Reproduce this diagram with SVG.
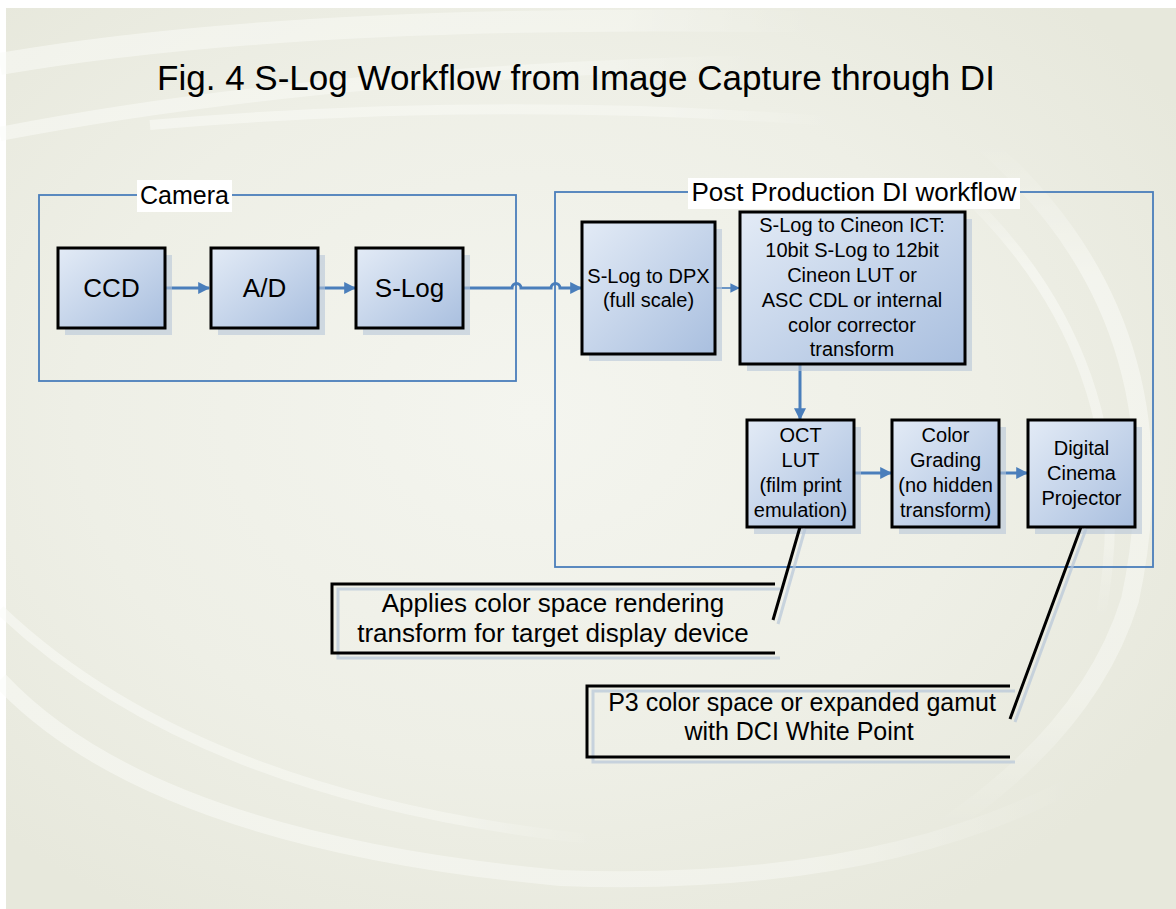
<svg xmlns="http://www.w3.org/2000/svg" width="1176" height="909" viewBox="0 0 1176 909">
<defs>
  <linearGradient id="boxg" x1="0" y1="0" x2="1" y2="1">
    <stop offset="0" stop-color="#e3ebf6"/>
    <stop offset="1" stop-color="#a9bfdf"/>
  </linearGradient>
  <radialGradient id="bgg" cx="0.45" cy="0.45" r="0.65">
    <stop offset="0" stop-color="#f4f5ef"/>
    <stop offset="0.6" stop-color="#eeefe6"/>
    <stop offset="1" stop-color="#e7e8dc"/>
  </radialGradient>
  <linearGradient id="fadeR" x1="0" y1="0" x2="1" y2="0">
    <stop offset="0" stop-color="#fbfcf8" stop-opacity="1"/>
    <stop offset="0.75" stop-color="#fbfcf8" stop-opacity="0.8"/>
    <stop offset="1" stop-color="#fbfcf8" stop-opacity="0"/>
  </linearGradient>
  <linearGradient id="fadeD" x1="0" y1="0" x2="0" y2="1">
    <stop offset="0" stop-color="#fbfcf8" stop-opacity="0"/>
    <stop offset="0.2" stop-color="#fbfcf8" stop-opacity="1"/>
    <stop offset="0.8" stop-color="#fbfcf8" stop-opacity="0.8"/>
    <stop offset="1" stop-color="#fbfcf8" stop-opacity="0"/>
  </linearGradient>
  <marker id="ah" viewBox="0 0 10 10" refX="9" refY="5" markerWidth="4" markerHeight="4" orient="auto" markerUnits="strokeWidth">
    <path d="M0,0 L10,5 L0,10 z" fill="#4a7ebb"/>
  </marker>
  <marker id="ahs" viewBox="0 0 10 10" refX="9" refY="5" markerWidth="6" markerHeight="6" orient="auto" markerUnits="strokeWidth">
    <path d="M0,0 L10,5 L0,10 z" fill="#4a7ebb"/>
  </marker>
</defs>
<style>
  .box { fill: url(#boxg); stroke: #000; stroke-width: 3; }
  .shadow { fill: #b7c6d9; opacity: 0.6; }
  .frame { fill: none; stroke: #4a7ebb; stroke-width: 1.8; }
  .lbl { fill: #fff; }
  .t { font-family: "Liberation Sans", Arial, sans-serif; fill: #000; text-anchor: middle; }
  .conn { fill: none; stroke: #4a7ebb; stroke-width: 3; }
  .thin { fill: none; stroke: #4a7ebb; stroke-width: 1.6; }
  .call { fill: none; stroke: #000; stroke-width: 3; }
  .callsh { fill: none; stroke: #b7c6d9; stroke-width: 3; opacity: 0.7; }
  .swirl { fill: none; }
</style>
<rect width="1176" height="909" fill="#ffffff"/>
<rect x="6" y="8" width="1170" height="901" fill="url(#bgg)"/>
<g id="background-swirls" opacity="0.55">
  <path class="swirl" stroke="url(#fadeR)" stroke-width="22" d="M0,64 Q300,12 820,22"/>
  <path class="swirl" stroke="url(#fadeR)" stroke-width="14" d="M0,134 Q320,72 760,62"/>
  <path class="swirl" stroke="url(#fadeR)" stroke-width="10" d="M150,125 Q500,95 840,122"/>
  <path class="swirl" stroke="url(#fadeR)" stroke-width="16" d="M0,680 Q150,840 560,878 Q880,890 1080,780"/>
  <path class="swirl" stroke="url(#fadeR)" stroke-width="10" d="M0,610 Q200,800 600,840"/>
  <path class="swirl" stroke="url(#fadeD)" stroke-width="18" d="M980,140 Q1190,320 1130,600 Q1090,730 940,830"/>
  <path class="swirl" stroke="url(#fadeD)" stroke-width="10" d="M950,180 Q1150,360 1100,620"/>
</g>

<text id="title" class="t" x="576" y="90" font-size="35">Fig. 4 S-Log Workflow from Image Capture through DI</text>

<g id="camera-group">
  <rect class="frame" x="39" y="195" width="477" height="186"/>
  <rect class="lbl" x="137" y="180" width="95" height="32"/>
  <text class="t" x="184.5" y="204" font-size="25">Camera</text>
</g>

<g id="post-group">
  <rect class="frame" x="555" y="192" width="598" height="375"/>
  <rect class="lbl" x="688" y="178" width="332" height="31"/>
  <text class="t" x="854" y="201" font-size="26">Post Production DI workflow</text>
</g>

<g id="connectors">
  <line class="conn" x1="165" y1="288" x2="209" y2="288" marker-end="url(#ah)"/>
  <line class="conn" x1="318" y1="288" x2="355" y2="288" marker-end="url(#ah)"/>
  <path class="conn" d="M463,288 H512 a4.5,4.5 0 0 1 9,0 H551 a4.5,4.5 0 0 1 9,0 H581" marker-end="url(#ah)"/>
  <line class="thin" x1="715" y1="288" x2="739" y2="288" marker-end="url(#ahs)"/>
  <line class="conn" x1="800" y1="364" x2="800" y2="419" marker-end="url(#ah)"/>
  <line class="conn" x1="854" y1="473" x2="891" y2="473" marker-end="url(#ah)"/>
  <line class="conn" x1="999" y1="473" x2="1027" y2="473" marker-end="url(#ah)"/>
</g>

<g id="ccd">
  <rect class="shadow" x="65" y="255" width="107" height="80"/>
  <rect class="box" x="58" y="248" width="107" height="80"/>
  <text class="t" x="111.5" y="297" font-size="26">CCD</text>
</g>
<g id="ad">
  <rect class="shadow" x="218" y="255" width="107" height="80"/>
  <rect class="box" x="211" y="248" width="107" height="80"/>
  <text class="t" x="264.5" y="297" font-size="26">A/D</text>
</g>
<g id="slog">
  <rect class="shadow" x="363" y="255" width="107" height="80"/>
  <rect class="box" x="356" y="248" width="107" height="80"/>
  <text class="t" x="409.5" y="297" font-size="26">S-Log</text>
</g>

<g id="slog-dpx">
  <rect class="shadow" x="589" y="229" width="133" height="132"/>
  <rect class="box" x="582" y="222" width="133" height="132"/>
  <text class="t" x="648.5" y="283" font-size="20">S-Log to DPX</text>
  <text class="t" x="648.5" y="307" font-size="20">(full scale)</text>
</g>

<g id="cineon">
  <rect class="shadow" x="747" y="219" width="225" height="152"/>
  <rect class="box" x="740" y="212" width="225" height="152"/>
  <text class="t" x="852" y="232" font-size="20">S-Log to Cineon ICT:</text>
  <text class="t" x="852" y="257" font-size="20">10bit S-Log to 12bit</text>
  <text class="t" x="852" y="282" font-size="20">Cineon LUT or</text>
  <text class="t" x="852" y="307" font-size="20">ASC CDL or internal</text>
  <text class="t" x="852" y="332" font-size="20">color corrector</text>
  <text class="t" x="852" y="356" font-size="20">transform</text>
</g>

<g id="oct-lut">
  <rect class="shadow" x="754" y="427" width="107" height="107"/>
  <rect class="box" x="747" y="420" width="107" height="107"/>
  <text class="t" x="800.5" y="442" font-size="20">OCT</text>
  <text class="t" x="800.5" y="467" font-size="20">LUT</text>
  <text class="t" x="800.5" y="492" font-size="20">(film print</text>
  <text class="t" x="800.5" y="517" font-size="20">emulation)</text>
</g>

<g id="color-grading">
  <rect class="shadow" x="899" y="427" width="107" height="107"/>
  <rect class="box" x="892" y="420" width="107" height="107"/>
  <text class="t" x="945.5" y="442" font-size="20">Color</text>
  <text class="t" x="945.5" y="467" font-size="20">Grading</text>
  <text class="t" x="945.5" y="492" font-size="20">(no hidden</text>
  <text class="t" x="945.5" y="517" font-size="20">transform)</text>
</g>

<g id="projector">
  <rect class="shadow" x="1035" y="427" width="107" height="107"/>
  <rect class="box" x="1028" y="420" width="107" height="107"/>
  <text class="t" x="1081.5" y="455" font-size="20">Digital</text>
  <text class="t" x="1081.5" y="480" font-size="20">Cinema</text>
  <text class="t" x="1081.5" y="505" font-size="20">Projector</text>
</g>

<g id="callout-oct">
  <path class="callsh" d="M805,529 L778,624 M780,589 H338 V658 H780"/>
  <path class="call" d="M800,527 L773,620 M775,584 H332 V653 H775"/>
  <text class="t" x="553" y="612" font-size="26">Applies color space rendering</text>
  <text class="t" x="553" y="642" font-size="26">transform for target display device</text>
</g>

<g id="callout-projector">
  <path class="callsh" d="M1086,529 L1015,722 M1015,691 H593 V762 H1015"/>
  <path class="call" d="M1081,527 L1010,719 M1010,686 H587 V757 H1010"/>
  <text class="t" x="802" y="711" font-size="25">P3 color space or expanded gamut</text>
  <text class="t" x="799" y="740" font-size="25">with DCI White Point</text>
</g>
</svg>
